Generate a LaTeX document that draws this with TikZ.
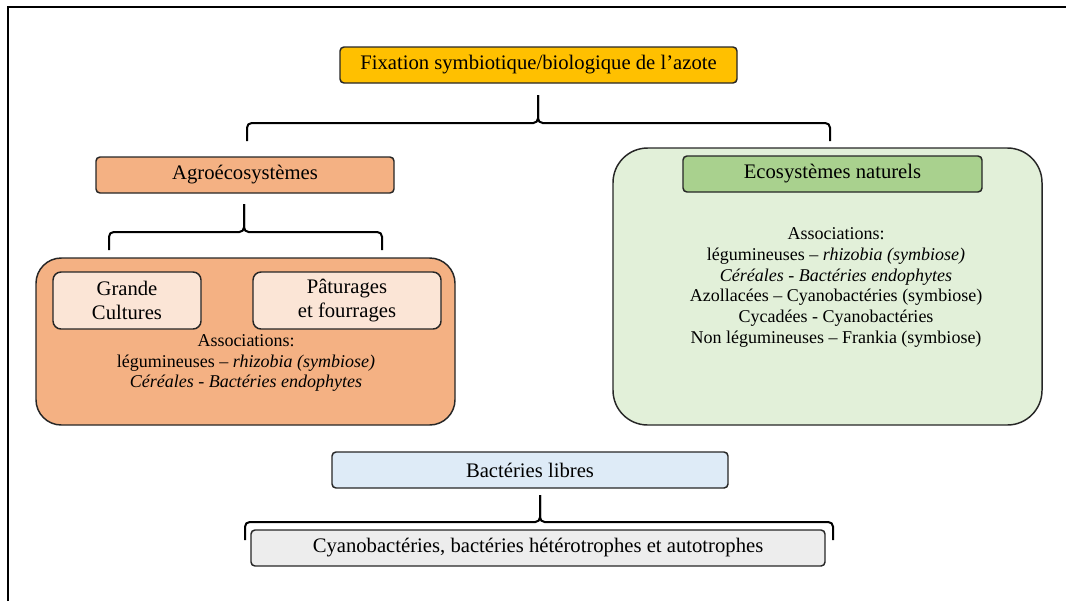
\documentclass[tikz,border=0pt]{standalone}
\usepackage{fontspec}
\setmainfont{Liberation Serif}

\tikzset{every picture/.style={line width=0.75pt}}
\tikzset{
  box/.style={draw={rgb, 255:red, 38; green, 38; blue, 38 }, line width=1.1pt, rounded corners=3pt, inner sep=0pt, align=center, font=\fontsize{15.5}{18.5}\selectfont},
  zone/.style={draw={rgb, 255:red, 38; green, 38; blue, 38 }, line width=1.1pt, inner sep=0pt},
  bodytext/.style={inner sep=0pt, align=center, font=\fontsize{13.5}{15.6}\selectfont},
  brace/.style={line width=1.5pt, rounded corners=3.5pt},
}

\begin{document}
\begin{tikzpicture}[x=0.75pt,y=0.75pt,yscale=-1,xscale=1]
\useasboundingbox (0,0) rectangle (1066,601);

%Frame
\draw [line width=2.2pt] (8,601) -- (8,7) -- (1066,7) ;

%Shape: Rounded Rect [id:title]
\node [box, fill={rgb, 255:red, 255; green, 192; blue, 0 }, minimum width=297.75pt, minimum height=27pt] (fixation) at (538.5,65) {Fixation symbiotique/biologique de l’azote};

%Shape: Rounded Rect [id:agrozone]
\node [zone, rounded corners=19pt, fill={rgb, 255:red, 244; green, 177; blue, 131 }, minimum width=314.25pt, minimum height=125.25pt] (agrozone) at (245.5,341.5) {};
%Shape: Rounded Rect [id:ecozone]
\node [zone, rounded corners=26pt, fill={rgb, 255:red, 226; green, 240; blue, 217 }, minimum width=321.75pt, minimum height=207.75pt] (ecozone) at (827.5,286.5) {};

%Shape: Rounded Rect [id:agro]
\node [box, fill={rgb, 255:red, 244; green, 177; blue, 131 }, minimum width=223.5pt, minimum height=27pt] (agro) at (245,175) {Agroécosystèmes};
%Shape: Rounded Rect [id:grande]
\node [box, rounded corners=6pt, fill={rgb, 255:red, 251; green, 229; blue, 214 }, minimum width=111pt, minimum height=42.75pt] (grande) at (127,300.5) {Grande\\Cultures};
%Shape: Rounded Rect [id:paturages]
\node [box, rounded corners=6pt, fill={rgb, 255:red, 251; green, 229; blue, 214 }, minimum width=141pt, minimum height=42.75pt] (paturages) at (347,300.5) {Pâturages\\et fourrages};
% Text Node
\node [bodytext] (agroassoc) at (246,363) {Associations:\\légumineuses – \textit{rhizobia (symbiose)}\\\textit{Céréales - Bactéries endophytes}};

%Shape: Rounded Rect [id:eco]
\node [box, fill={rgb, 255:red, 169; green, 209; blue, 142 }, minimum width=224.25pt, minimum height=27pt] (eco) at (832.5,174) {Ecosystèmes naturels};
% Text Node
\node [bodytext] (ecoassoc) at (836,287.5) {Associations:\\légumineuses – \textit{rhizobia (symbiose)}\\\textit{Céréales - Bactéries endophytes}\\Azollacées – Cyanobactéries (symbiose)\\Cycadées - Cyanobactéries\\Non légumineuses – Frankia (symbiose)};

%Shape: Rounded Rect [id:libres]
\node [box, fill={rgb, 255:red, 222; green, 235; blue, 247 }, minimum width=297pt, minimum height=27pt] (libres) at (530,470) {Bactéries libres};
%Shape: Rounded Rect [id:cyano]
\node [box, fill={rgb, 255:red, 237; green, 237; blue, 237 }, minimum width=430.5pt, minimum height=27pt] (cyano) at (538,548) {Cyanobactéries, bactéries hétérotrophes et autotrophes};

%Brace [id:fixation]
\coordinate (brfixtop) at (538,95);
\coordinate (brfixmid) at (538,123);
\coordinate (brfixl) at (247,141);
\coordinate (brfixr) at (830,141);
\draw [brace] (brfixtop) -- (brfixmid) -| (brfixl) ;
\draw [brace] (brfixtop) -- (brfixmid) -| (brfixr) ;

%Brace [id:agro]
\coordinate (bragrotop) at (244,204);
\coordinate (bragromid) at (244,232);
\coordinate (bragrol) at (109,250);
\coordinate (bragror) at (382,250);
\draw [brace] (bragrotop) -- (bragromid) -| (bragrol) ;
\draw [brace] (bragrotop) -- (bragromid) -| (bragror) ;

%Brace [id:libres]
\coordinate (brlibtop) at (540,495);
\coordinate (brlibmid) at (540,522);
\coordinate (brlibl) at (245,540);
\coordinate (brlibr) at (833,540);
\draw [brace] (brlibtop) -- (brlibmid) -| (brlibl) ;
\draw [brace] (brlibtop) -- (brlibmid) -| (brlibr) ;

\end{tikzpicture}
\end{document}
